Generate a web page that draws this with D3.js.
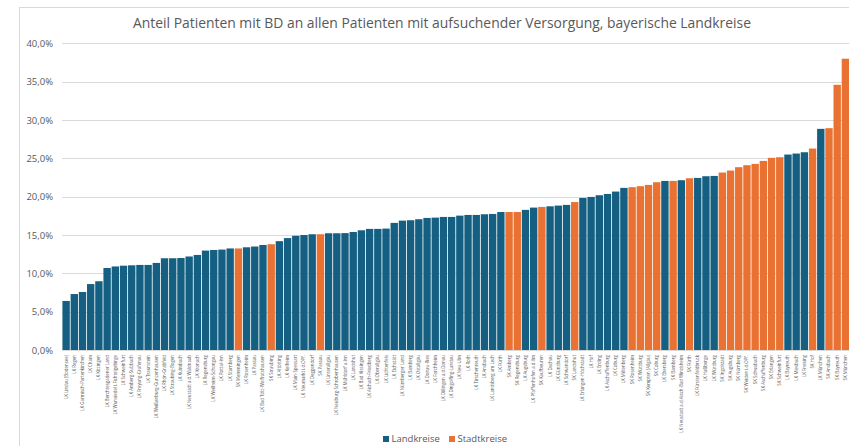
<!DOCTYPE html>
<html>
<head>
<meta charset="utf-8">
<script src="https://cdn.jsdelivr.net/npm/d3@7/dist/d3.min.js"></script>
<style>
  html, body { margin: 0; padding: 0; background: #fff; }
  svg { display: block; }
</style>
</head>
<body>
<svg id="chart" width="849" height="446"></svg>
<script>
const regions = [
  "LK Lindau (Bodensee)","LK Regen","LK Garmisch-Partenkirchen","LK Cham","LK Kitzingen",
  "LK Berchtesgadener Land","LK Wunsiedel i.Fichtelgebirge","LK Schweinfurt","LK Amberg-Sulzbach","LK Freyung-Grafenau",
  "LK Traunstein","LK Weißenburg-Gunzenhausen","LK Rhön-Grabfeld","LK Straubing-Bogen","LK Kulmbach",
  "LK Neustadt a.d.Waldnaab","LK Kronach","LK Regensburg","LK Weilheim-Schongau","LK Rottal-Inn",
  "LK Starnberg","SK Memmingen","LK Rosenheim","LK Passau","LK Bad Tölz-Wolfratshausen",
  "SK Straubing","LK Altötting","LK Kelheim","LK Main-Spessart","LK Neumarkt i.d.OPf.",
  "LK Deggendorf","SK Passau","LK Unterallgäu","LK Neuburg-Schrobenhausen","LK Mühldorf a.Inn",
  "LK Landshut","LK Bad Kissingen","LK Aichach-Friedberg","LK Oberallgäu","LK Lichtenfels",
  "LK Eichstätt","LK Nürnberger Land","LK Bamberg","LK Ostallgäu","LK Donau-Ries",
  "LK Forchheim","LK Dillingen a.d.Donau","LK Dingolfing-Landau","LK Neu-Ulm","LK Roth",
  "LK Tirschenreuth","LK Ansbach","LK Landsberg am Lech","LK Fürth","SK Amberg",
  "SK Regensburg","LK Augsburg","LK Pfaffenhofen a.d.Ilm","SK Kaufbeuren","LK Dachau",
  "LK Günzburg","LK Schwandorf","SK Landshut","LK Erlangen-Höchstadt","LK Hof",
  "LK Erding","LK Aschaffenburg","LK Coburg","LK Miltenberg","SK Rosenheim",
  "SK Würzburg","SK Kempten (Allgäu)","SK Coburg","LK Ebersberg","SK Bamberg",
  "LK Neustadt a.d.Aisch-Bad Windsheim","SK Fürth","LK Fürstenfeldbruck","LK Haßberge","LK Würzburg",
  "SK Ingolstadt","SK Augsburg","SK Nürnberg","SK Weiden i.d.OPf.","SK Schwabach",
  "SK Aschaffenburg","SK Erlangen","SK Schweinfurt","LK Bayreuth","LK Miesbach",
  "LK Freising","SK Hof","LK München","SK Ansbach","SK Bayreuth",
  "SK München"
];

// share in percent
const shares = [
  6.4, 7.3, 7.57, 8.6, 8.97,
  10.7, 10.9, 11.0, 11.05, 11.1,
  11.1, 11.36, 11.97, 11.97, 12.0,
  12.2, 12.4, 12.97, 13.05, 13.1,
  13.25, 13.25, 13.4, 13.5, 13.7,
  13.8, 14.2, 14.6, 14.9, 15.0,
  15.1, 15.1, 15.23, 15.23, 15.25,
  15.4, 15.62, 15.8, 15.8, 15.84,
  16.58, 16.88, 16.93, 17.06, 17.23,
  17.27, 17.36, 17.36, 17.53, 17.62,
  17.62, 17.71, 17.75, 18.0, 18.0,
  18.0, 18.28, 18.58, 18.67, 18.75,
  18.84, 18.93, 19.3, 19.84, 19.97,
  20.19, 20.36, 20.67, 21.15, 21.24,
  21.37, 21.54, 21.89, 22.06, 22.06,
  22.15, 22.41, 22.45, 22.67, 22.71,
  23.15, 23.41, 23.85, 24.11, 24.28,
  24.67, 25.07, 25.15, 25.5, 25.63,
  25.8, 26.28, 28.85, 28.94, 34.6,
  38.0
];

const yTicks = [0, 5, 10, 15, 20, 25, 30, 35, 40];
const legendItems = ["Landkreise", "Stadtkreise"];

const colors = { LK: "#156082", SK: "#E97132" };
const textColor = "#595959";
const fontFamily = "'Open Sans', 'Liberation Sans', sans-serif";

const data = regions.map((name, i) => ({ name, value: shares[i], type: name.startsWith("SK") ? "SK" : "LK", i }));

const svg = d3.select("#chart");

// chart frame
svg.append("rect")
  .attr("x", 19.5).attr("y", 7.5)
  .attr("width", 900).attr("height", 500)
  .attr("fill", "none").attr("stroke", "#d9d9d9").attr("stroke-width", 1);

const x = d3.scaleBand()
  .domain(data.map(d => d.i))
  .range([62, 849.5])
  .paddingInner(0.1)
  .paddingOuter(0.05);

const y = d3.scaleLinear()
  .domain([0, 40])
  .range([350, 43.4]);

// gridlines
svg.append("g")
  .selectAll("line")
  .data(yTicks)
  .join("line")
  .attr("x1", 62).attr("x2", 849)
  .attr("y1", d => Math.round(y(d)) + 0.5)
  .attr("y2", d => Math.round(y(d)) + 0.5)
  .attr("stroke", "#d9d9d9").attr("stroke-width", 1);

// y axis labels
const yAxis = d3.axisLeft(y)
  .tickValues(yTicks)
  .tickSize(0)
  .tickPadding(0)
  .tickFormat(d => d3.format(".1f")(d).replace(".", ",") + "%");

const yG = svg.append("g").attr("transform", "translate(53,0)").call(yAxis);
yG.select(".domain").remove();
yG.selectAll("text")
  .attr("fill", textColor)
  .attr("font-family", fontFamily)
  .attr("font-size", "9.5px");

// bars
svg.append("g")
  .selectAll("rect")
  .data(data)
  .join("rect")
  .attr("x", d => x(d.i))
  .attr("width", x.bandwidth())
  .attr("y", d => y(d.value))
  .attr("height", d => y(0) - y(d.value))
  .attr("fill", d => colors[d.type]);

// x labels
svg.append("g")
  .selectAll("text")
  .data(data)
  .join("text")
  .attr("transform", d => `translate(${x(d.i) + x.bandwidth() / 2 + 1.5},355) rotate(-90)`)
  .attr("text-anchor", "end")
  .attr("fill", textColor)
  .attr("font-family", fontFamily)
  .attr("font-size", "4.4px")
  .text(d => d.name);

// title
svg.append("text")
  .attr("x", 442).attr("y", 28)
  .attr("text-anchor", "middle")
  .attr("fill", textColor)
  .attr("font-family", fontFamily)
  .attr("font-size", "13.9px")
  .text("Anteil Patienten mit BD an allen Patienten mit aufsuchender Versorgung, bayerische Landkreise");

// legend
const legend = svg.append("g");
const legX = [383, 449];
legendItems.forEach((label, k) => {
  const g = legend.append("g").attr("transform", `translate(${legX[k]},436)`);
  g.append("rect").attr("width", 6).attr("height", 6)
    .attr("fill", k === 0 ? colors.LK : colors.SK);
  g.append("text").attr("x", 8.5).attr("y", 6.3)
    .attr("fill", textColor)
    .attr("font-family", fontFamily)
    .attr("font-size", "9.5px")
    .text(label);
});
</script>
</body>
</html>
